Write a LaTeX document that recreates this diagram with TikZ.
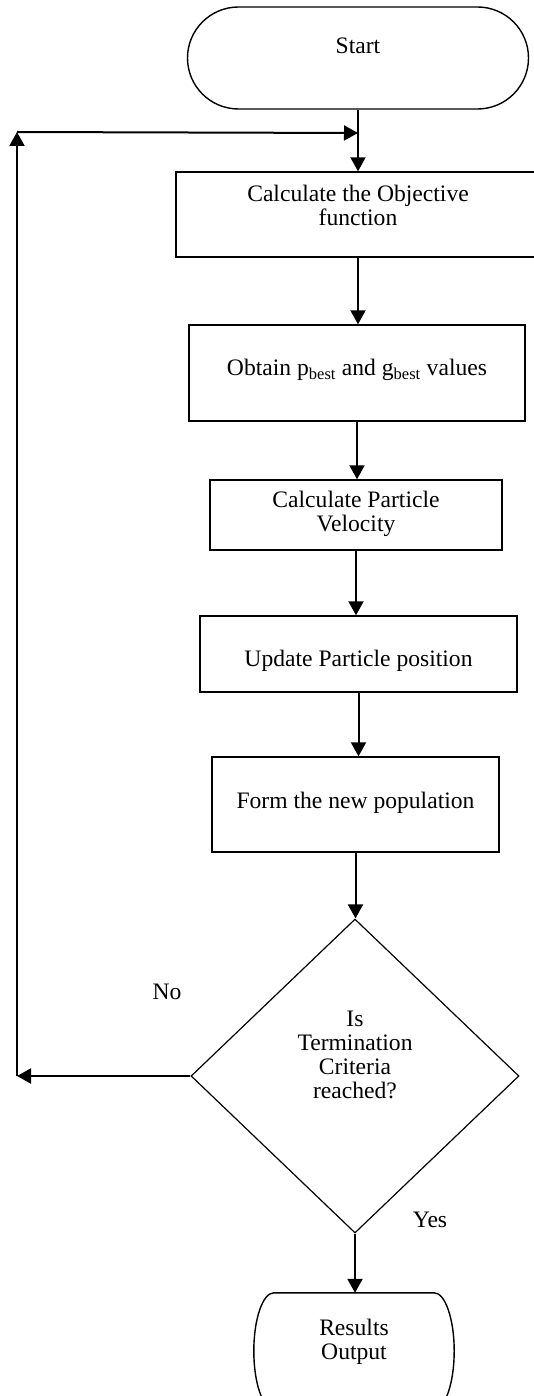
\documentclass[tikz,border=0pt]{standalone}
\usepackage{fontspec}
\setmainfont{Liberation Serif}
\usetikzlibrary{shapes.geometric,arrows.meta}
\begin{document}
\begin{tikzpicture}[x=1pt,y=-1pt,
  shapeline/.style={draw=black, line width=1.4pt},
  procbox/.style={shapeline, rectangle, inner sep=0pt},
  termbox/.style={shapeline, rectangle, rounded corners=51pt, inner sep=0pt},
  decbox/.style={shapeline, diamond, inner sep=0pt, line width=1.2pt},
  ghost/.style={rectangle, inner sep=0pt},
  lbl/.style={align=center, inner sep=0pt, font=\fontsize{23.6pt}{23.8pt}\selectfont, text=black},
  arr/.style={draw=black, line width=2pt, -{Triangle[length=14pt,width=15pt]}}
]
\useasboundingbox (0,0) rectangle (534,1396);
\clip (0,0) rectangle (534,1396);
\fill[white] (0,0) rectangle (534,1396);

\node[termbox, minimum width=341pt, minimum height=102pt,
  label={[lbl,yshift=12pt]center:Start}] (start) at (358,58) {};
\node[procbox, minimum width=364pt, minimum height=85pt,
  label={[lbl,yshift=9pt]center:Calculate the Objective\\function}] (b1) at (358,214.5) {};
\node[procbox, minimum width=336pt, minimum height=96pt,
  label={[lbl,yshift=3pt]center:Obtain p\textsubscript{best} and g\textsubscript{best} values}] (b2) at (357,373) {};
\node[procbox, minimum width=292pt, minimum height=70pt,
  label={[lbl,yshift=1pt]center:Calculate Particle\\Velocity}] (b3) at (356,515) {};
\node[procbox, minimum width=317pt, minimum height=76pt,
  label={[lbl,yshift=-7pt]center:Update Particle position}] (b4) at (358.5,654) {};
\node[procbox, minimum width=287pt, minimum height=95pt,
  label={[lbl,yshift=1.5pt]center:Form the new population}] (b5) at (355.5,804.5) {};
\node[decbox, minimum width=328pt, minimum height=314pt,
  label={[lbl,yshift=21pt]center:Is\\Termination\\Criteria\\reached?}] (dia) at (355,1076) {};
\node[ghost, minimum width=200pt, minimum height=116pt,
  label={[lbl,yshift=9pt]center:Results\\Output}] (res) at (354,1351) {};
\draw[shapeline] ([xshift=20pt]res.north west) -- ([xshift=-20pt]res.north east)
  .. controls ([xshift=-9pt]res.north east) and ([yshift=32pt]res.east) .. (res.east)
  .. controls ([yshift=-32pt]res.east) and ([xshift=-9pt]res.south east) .. ([xshift=-20pt]res.south east)
  -- ([xshift=20pt]res.south west)
  .. controls ([xshift=9pt]res.south west) and ([yshift=-32pt]res.west) .. (res.west)
  .. controls ([yshift=32pt]res.west) and ([xshift=9pt]res.north west) .. cycle;

\node[lbl] (no) at (167,992) {No};
\node[lbl] (yes) at (430,1220) {Yes};

\coordinate (J) at (358,133);
\coordinate (TL) at (17,132);
\coordinate (BL) at (dia.west -| TL);

\draw[arr] (start.south) -- (b1.north);
\draw[arr] (b1.south) -- (b1.south |- b2.north);
\draw[arr] (b2.south) -- (b2.south |- b3.north);
\draw[arr] (b3.south) -- (b3.south |- b4.north);
\draw[arr] (b4.south) -- (b4.south |- b5.north);
\draw[arr] (b5.south) -- (b5.south |- dia.north);
\draw[arr] (dia.south) -- (dia.south |- res.north);
\draw[arr] (dia.west) -- (BL);
\draw[arr] (BL) -- (TL);
\draw[arr] (TL) -- (J);
\end{tikzpicture}
\end{document}
